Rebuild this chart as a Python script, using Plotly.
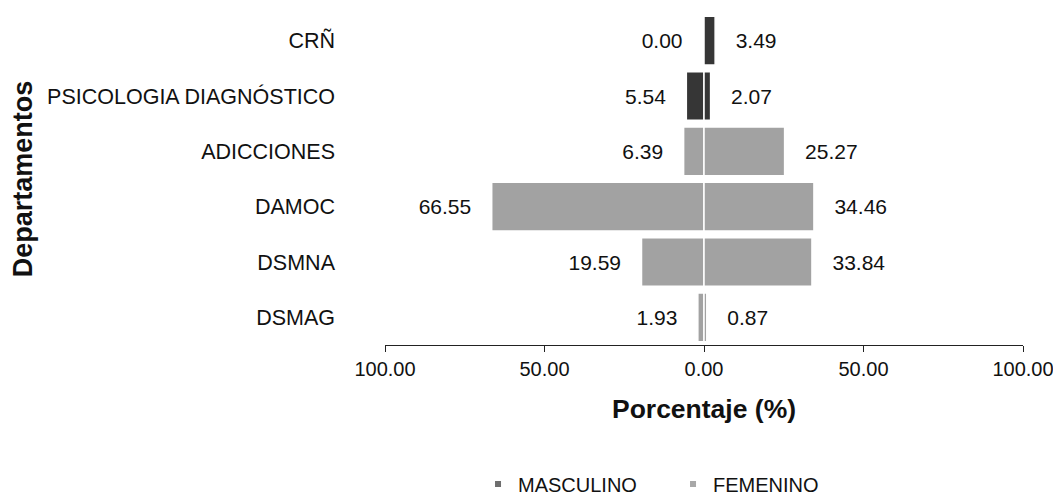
import plotly.graph_objects as go

# Data (bottom to top in plot order)
departamentos = ["DSMAG", "DSMNA", "DAMOC", "ADICCIONES", "PSICOLOGIA DIAGNÓSTICO", "CRÑ"]
masculino = [1.93, 19.59, 66.55, 6.39, 5.54, 0.00]
femenino = [0.87, 33.84, 34.46, 25.27, 2.07, 3.49]
tick_vals = [-100, -50, 0, 50, 100]
tick_text = ["100.00", "50.00", "0.00", "50.00", "100.00"]

bar_colors = ["#a2a2a2", "#a2a2a2", "#a2a2a2", "#a2a2a2", "#363636", "#363636"]
FONT = "Arial, 'Liberation Sans', sans-serif"
NB = "\u00a0"

# masculino drawn to the left (negative side); a sub-pixel minimum keeps the
# label of a zero-length bar on the left side
masc_x = [-max(v, 0.3) for v in masculino]

fig = go.Figure()
fig.add_trace(go.Bar(
    y=departamentos, x=masc_x, orientation="h",
    name="MASCULINO", showlegend=False,
    marker=dict(color=bar_colors, line=dict(color="white", width=1.5)),
    text=[f"{v:.2f}" + NB * 3 for v in masculino], textposition="outside",
    textfont=dict(family=FONT, size=21, color="#111"), cliponaxis=False,
))
fig.add_trace(go.Bar(
    y=departamentos, x=femenino, orientation="h",
    name="FEMENINO", showlegend=False,
    marker=dict(color=bar_colors, line=dict(color="white", width=1.5)),
    text=[NB * 3 + f"{v:.2f}" for v in femenino], textposition="outside",
    textfont=dict(family=FONT, size=21, color="#111"), cliponaxis=False,
))
# legend swatches
fig.add_trace(go.Scatter(x=[None], y=[None], mode="markers", name="MASCULINO",
                         marker=dict(symbol="square", size=6, color="#6e6e6e")))
fig.add_trace(go.Scatter(x=[None], y=[None], mode="markers", name="FEMENINO",
                         marker=dict(symbol="square", size=6, color="#a8a8a8")))

fig.update_layout(
    width=1061, height=496,
    margin=dict(l=377, r=46, t=5, b=159),
    paper_bgcolor="white", plot_bgcolor="white",
    barmode="overlay", bargap=0.12,
    font=dict(family=FONT, size=20, color="#111"),
    showlegend=True,
    legend=dict(orientation="h", xref="container", yref="container",
                x=0.443, xanchor="left", y=0.0403, yanchor="middle",
                font=dict(family=FONT, size=20, color="#111"),
                entrywidth=150, itemsizing="trace"),
    xaxis=dict(range=[-100, 100], tickvals=tick_vals, ticktext=tick_text, automargin=False,
               showgrid=False, zeroline=False, showline=True, linecolor="#222", linewidth=1,
               ticks="outside", ticklen=6, tickcolor="#222",
               tickfont=dict(family=FONT, size=20, color="#111"),
               title=dict(text="<b>Porcentaje (%)</b>", standoff=20,
                          font=dict(family=FONT, size=26.5, color="#111"))),
    yaxis=dict(categoryorder="array", categoryarray=departamentos, range=[-0.5, 5.5],
               automargin=False,
               showgrid=False, zeroline=False, showline=False, ticks="",
               ticklabelstandoff=49,
               tickfont=dict(family=FONT, size=21.5, color="#111"),
               title=dict(text="<b>Departamentos</b>", standoff=15,
                          font=dict(family=FONT, size=27, color="#111"))),
)
fig.write_html("out.html")
